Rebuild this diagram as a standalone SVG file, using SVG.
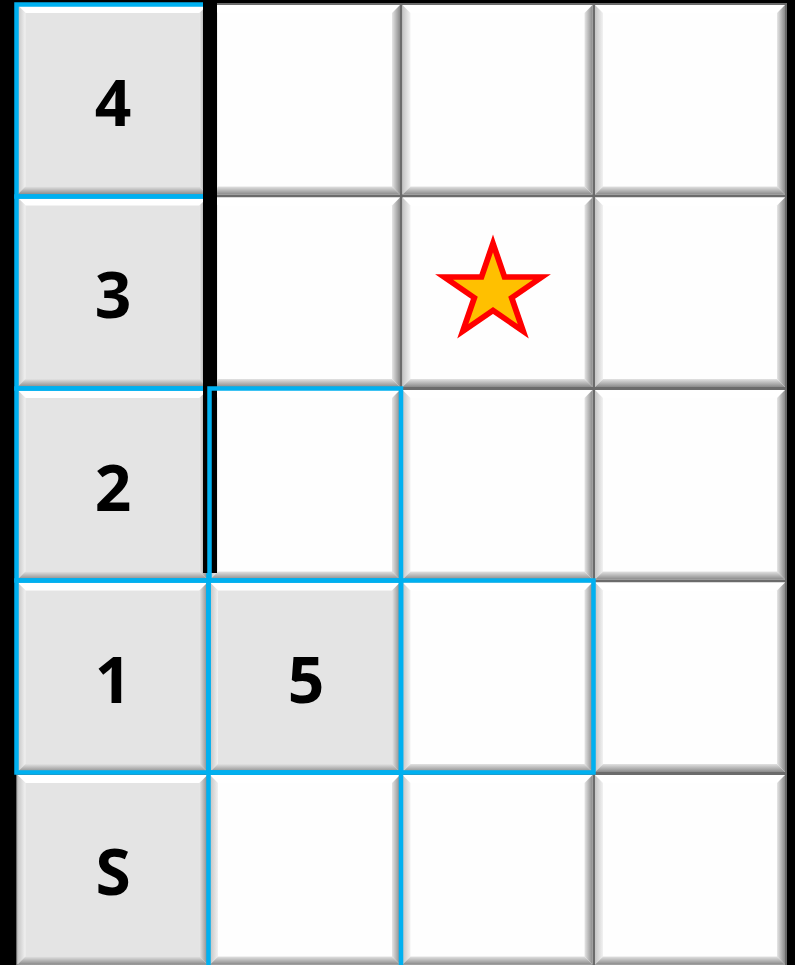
<svg xmlns="http://www.w3.org/2000/svg" xmlns:xlink="http://www.w3.org/1999/xlink" width="795" height="965" viewBox="0 0 795 965">
<style>
.lbl{font-family:"Open Sans","Liberation Sans",sans-serif;font-weight:bold;font-size:64px;fill:#000;text-anchor:middle}
.blue{fill:none;stroke:#00b0f0;stroke-width:4.5}
</style>
<defs>
<linearGradient id="gL" x1="0" y1="0" x2="1" y2="0"><stop offset="0" stop-color="#c4c4c4"/><stop offset="1" stop-color="#f2f2f2"/></linearGradient>
<linearGradient id="gR" x1="0" y1="0" x2="1" y2="0"><stop offset="0" stop-color="#e6e6e6"/><stop offset="1" stop-color="#8a8a8a"/></linearGradient>
<linearGradient id="gB" x1="0" y1="0" x2="0" y2="1"><stop offset="0" stop-color="#e2e2e2"/><stop offset="1" stop-color="#8a8a8a"/></linearGradient>
<g id="bev">
<polygon points="0,0 190,0 182,8 8,8" fill="#ffffff"/>
<polygon points="0,0 8,8 8,181.5 0,189.5" fill="url(#gL)"/>
<polygon points="190,0 190,189.5 182,181.5 182,8" fill="url(#gR)"/>
<polygon points="0,189.5 8,181.5 182,181.5 190,189.5" fill="url(#gB)"/>
</g>
<g id="cw"><rect width="190" height="189.5" fill="#fefefe"/><use xlink:href="#bev"/></g>
<g id="cg"><rect width="190" height="189.5" fill="#e4e4e4"/><use xlink:href="#bev"/></g>
</defs>
<rect width="795" height="965" fill="#000"/>
<rect x="16" y="3" width="771" height="962" fill="#6b6b6b"/>
<g id="cells">
<use xlink:href="#cg" x="17.5" y="5"/>
<use xlink:href="#cw" x="210" y="5"/>
<use xlink:href="#cw" x="402.5" y="5"/>
<use xlink:href="#cw" x="595" y="5"/>
<use xlink:href="#cg" x="17.5" y="197.5"/>
<use xlink:href="#cw" x="210" y="197.5"/>
<use xlink:href="#cw" x="402.5" y="197.5"/>
<use xlink:href="#cw" x="595" y="197.5"/>
<use xlink:href="#cg" x="17.5" y="390"/>
<use xlink:href="#cw" x="210" y="390"/>
<use xlink:href="#cw" x="402.5" y="390"/>
<use xlink:href="#cw" x="595" y="390"/>
<use xlink:href="#cg" x="17.5" y="582.5"/>
<use xlink:href="#cg" x="210" y="582.5"/>
<use xlink:href="#cw" x="402.5" y="582.5"/>
<use xlink:href="#cw" x="595" y="582.5"/>
<use xlink:href="#cg" x="17.5" y="775"/>
<use xlink:href="#cw" x="210" y="775"/>
<use xlink:href="#cw" x="402.5" y="775"/>
<use xlink:href="#cw" x="595" y="775"/>
</g>
<g id="connectors">
<rect class="blue" x="16.5" y="4.5" width="192" height="192"/>
<rect class="blue" x="16.5" y="196.5" width="192" height="192"/>
<rect class="blue" x="16.5" y="388.5" width="192" height="192"/>
<rect class="blue" x="16.5" y="580.5" width="192" height="192"/>
</g>
<rect id="wall" x="203" y="0" width="14" height="573" fill="#000"/>
<g id="connectors2">
<rect class="blue" x="209.5" y="388.5" width="191.5" height="192"/>
<rect class="blue" x="208.5" y="580.5" width="192.5" height="192"/>
<rect class="blue" x="401" y="580.5" width="192.5" height="192"/>
<rect class="blue" x="208.5" y="772.5" width="192.5" height="196"/>
</g>
<g id="n4"><text class="lbl" x="113" y="126">4</text></g>
<g id="n3"><text class="lbl" x="113" y="318">3</text></g>
<g id="n2"><text class="lbl" x="113" y="511">2</text></g>
<g id="n1"><text class="lbl" x="113" y="703">1</text></g>
<g id="n5"><text class="lbl" x="306" y="703">5</text></g>
<g id="nS"><text class="lbl" x="113" y="895">S</text></g>
<g id="star" transform="translate(493,292) scale(1.06,1)"><polygon points="0,-48.5 10.87,-14.97 46.13,-14.99 17.59,5.72 28.51,39.24 0,18.5 -28.51,39.24 -17.59,5.72 -46.13,-14.99 -10.87,-14.97" fill="#ffc000" stroke="#ff0000" stroke-width="5.5" stroke-linejoin="miter"/></g>
</svg>
